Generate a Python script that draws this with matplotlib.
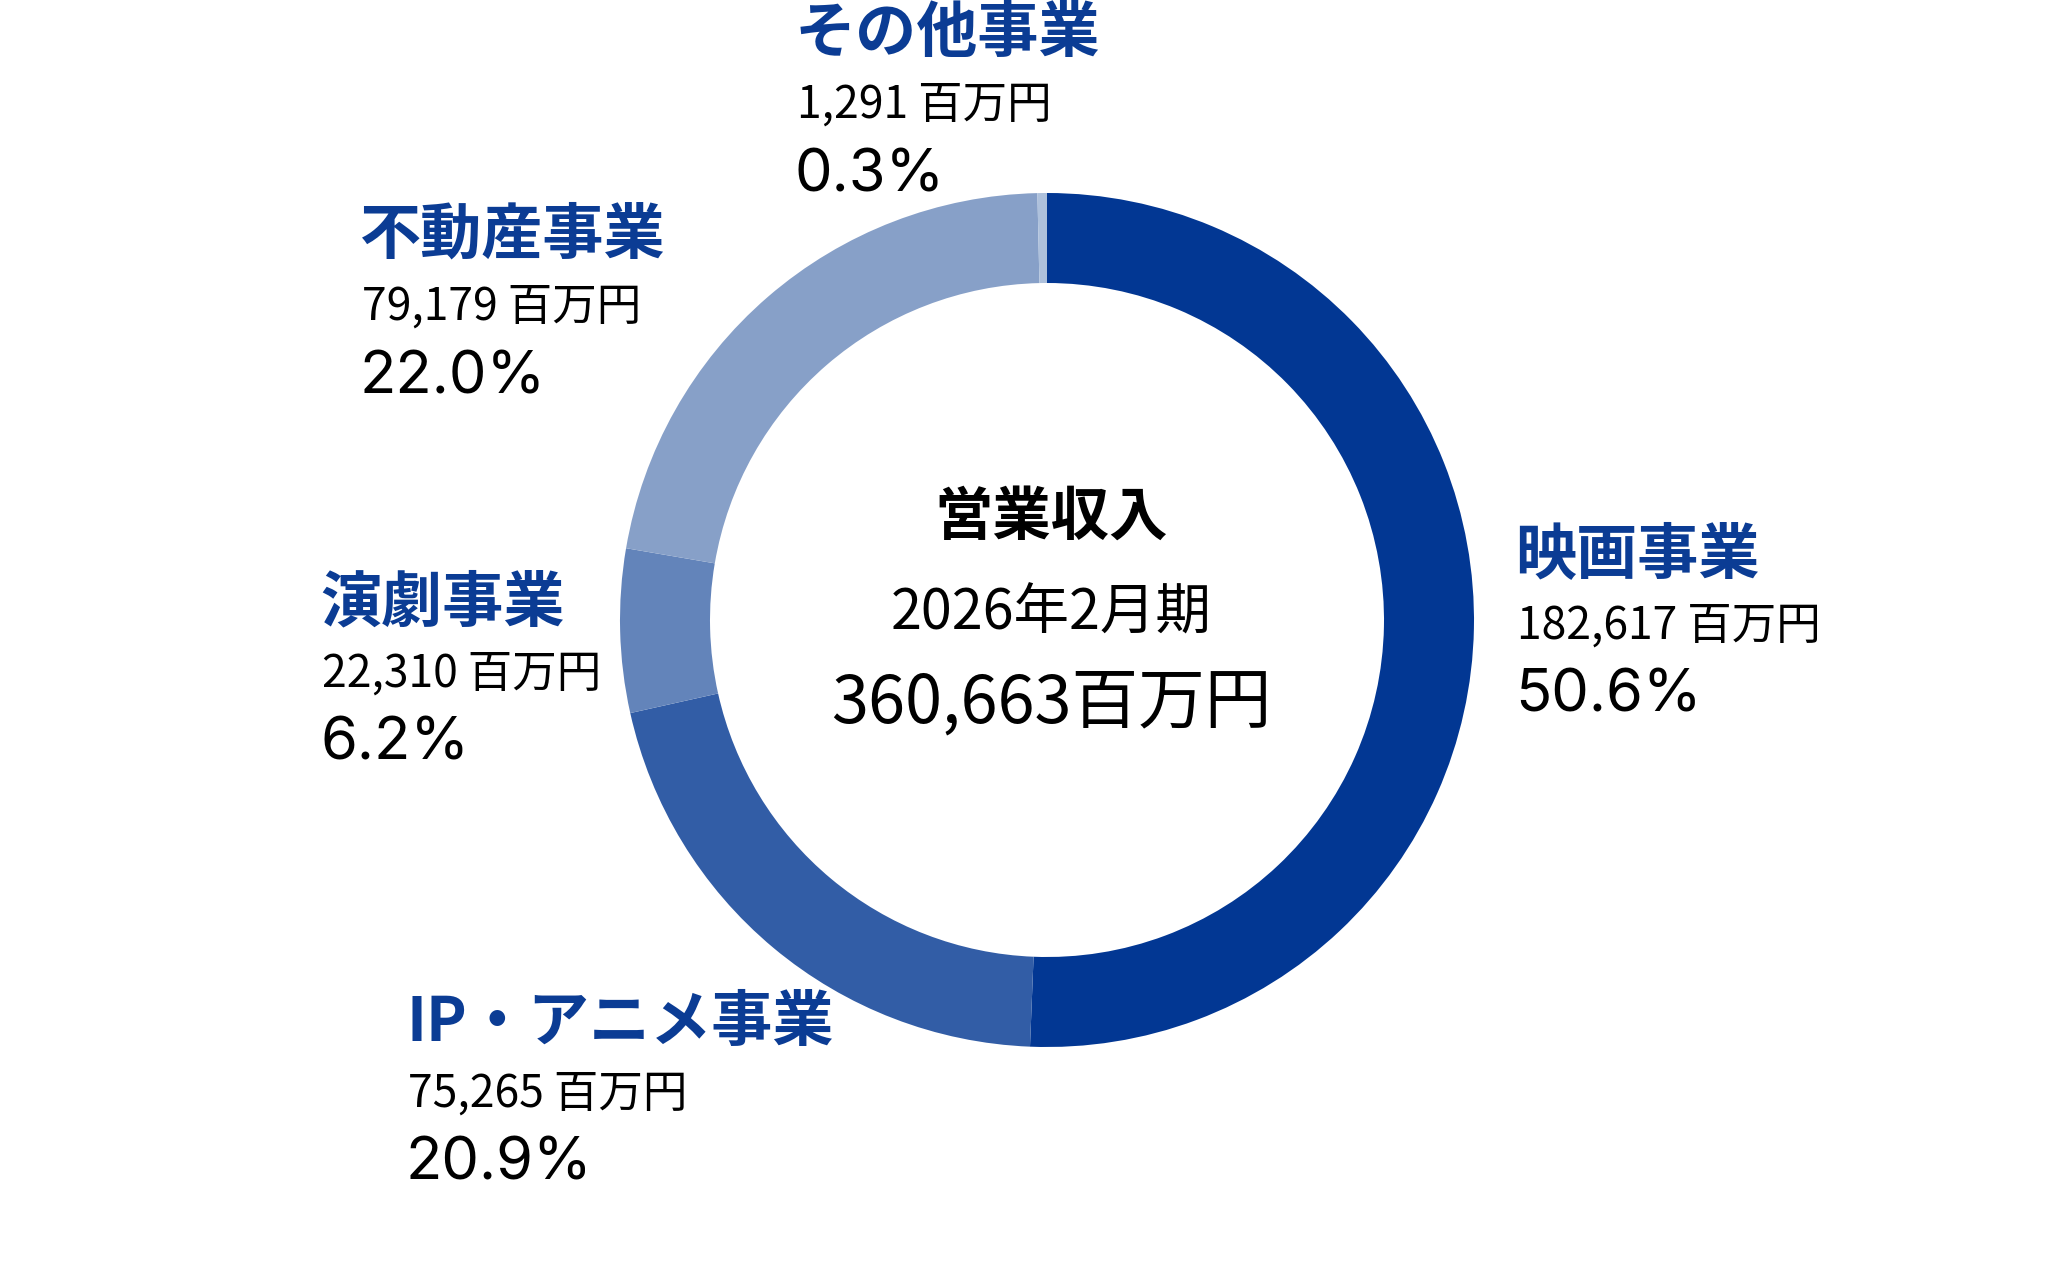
import matplotlib
matplotlib.use("Agg")
import matplotlib.pyplot as plt

plt.rcParams['font.family'] = ['Noto Sans CJK JP', 'DejaVu Sans']

# ---- data ----
segments = ["映画事業", "IP・アニメ事業", "演劇事業", "不動産事業", "その他事業"]
values = [182617, 75265, 22310, 79179, 1291]
value_labels = ["182,617 百万円", "75,265 百万円", "22,310 百万円", "79,179 百万円", "1,291 百万円"]
pct_labels = ["50.6%", "20.9%", "6.2%", "22.0%", "0.3%"]
center_title = "営業収入"
center_period = "2026年2月期"
center_total = "360,663百万円"

colors = ["#023793", "#325DA6", "#6384BA", "#87A0C8", "#AEC1DC"]
label_color = "#0B3C94"

W, H = 2067, 1267
fig = plt.figure(figsize=(W / 100, H / 100), dpi=100)
ax = fig.add_axes([0, 0, 1, 1])

cx, cy = 1047, H - 620
R, width = 427, 90
ax.pie(values, colors=colors, startangle=90, counterclock=False,
       radius=R, center=(cx, cy),
       wedgeprops=dict(width=width, linewidth=0, edgecolor='none', antialiased=True))
ax.set_xlim(0, W)
ax.set_ylim(0, H)
ax.set_aspect('equal')
ax.axis('off')

# label anchor positions (left x, value baseline y in image px)
anchors = {
    "映画事業": (1517, 639),
    "IP・アニメ事業": (408, 1107),
    "演劇事業": (322, 687),
    "不動産事業": (362, 320),
    "その他事業": (797, 118),
}

for name, vlab, plab in zip(segments, value_labels, pct_labels):
    x, yb = anchors[name]
    ax.text(x - 2, H - (yb - 66), name, fontsize=44, fontweight='bold',
            color=label_color, ha='left', va='baseline')
    ax.text(x, H - yb, vlab, fontsize=32, color='black', ha='left', va='baseline')
    ax.text(x - 2, H - (yb + 73), plab, fontsize=43, color='black', ha='left',
            va='baseline', family=['Inter', 'DejaVu Sans'])

ax.text(1051, H - 535, center_title, fontsize=42, fontweight='bold',
        color='black', ha='center', va='baseline')
ax.text(1051, H - 630, center_period, fontsize=40, color='black',
        ha='center', va='baseline')
ax.text(1051, H - 723, center_total, fontsize=48, color='black',
        ha='center', va='baseline')

fig.savefig("out.png", dpi=100, facecolor='white')
